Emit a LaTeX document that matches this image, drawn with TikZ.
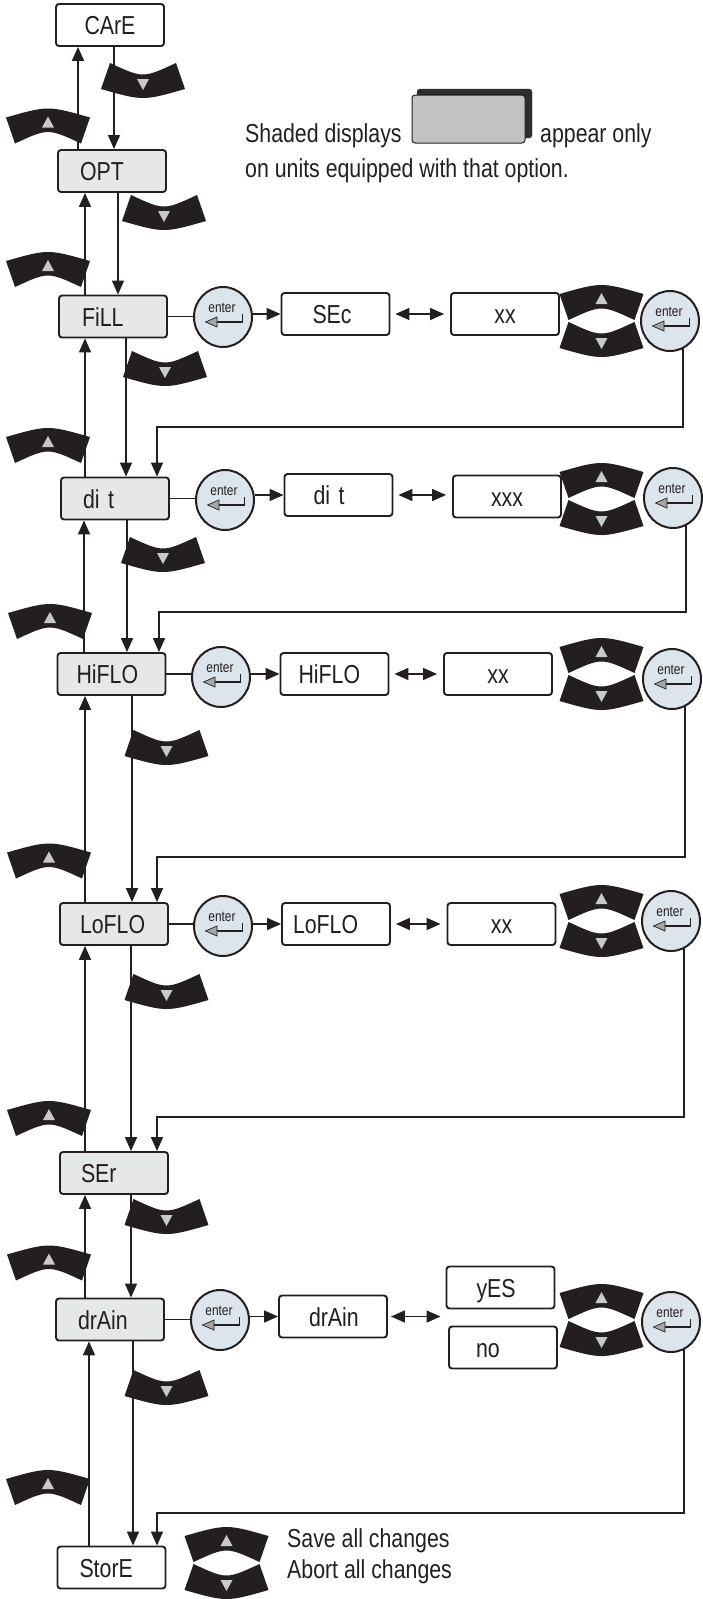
\documentclass[tikz,border=0pt]{standalone}
\usepackage{fontspec}
\newfontfamily\cond[FakeStretch=0.82]{Liberation Sans}
\usetikzlibrary{arrows.meta,shapes.geometric,calc}
\definecolor{ink}{HTML}{231F20}
\definecolor{shade}{HTML}{E6E7E8}
\definecolor{entfill}{HTML}{DDE5EC}
\definecolor{trig}{HTML}{C8C9CB}
\definecolor{iconfill}{HTML}{C2C2C2}
\definecolor{iconshadow}{HTML}{2E2E2E}
\begin{document}
\begin{tikzpicture}[x=1pt,y=-1pt,
  every node/.style={font=\cond\fontsize{26}{30}\selectfont, text=ink},
  dispbox/.style={draw=ink, line width=1.9pt, rounded corners=3pt, fill=white,
    minimum width=108pt, minimum height=42pt, inner xsep=0pt, inner ysep=0pt,
    text height=19pt, text depth=0pt, align=left},
  optbox/.style={dispbox, fill=shade},
  entkey/.style={ellipse, draw=ink, line width=2pt, fill=entfill,
    minimum width=58pt, minimum height=60pt, inner sep=0pt},
  conn/.style={draw=ink, line width=1.6pt},
  arr/.style={conn, -{Triangle[length=14pt,width=12pt]}},
  darr/.style={conn, {Triangle[length=14pt,width=12pt]}-{Triangle[length=14pt,width=12pt]}},
  txt/.style={inner sep=0pt, anchor=base west},
  upbtn/.pic={
    \fill[ink] (-42,-8.5) .. controls (0,-20.5) .. (42,-8.5) -- (33,17.5)
      .. controls (0,2.2) .. (-33,17.5) -- cycle;
    \fill[trig] (-6,1.5) -- (6,1.5) -- (0,-9.5) -- cycle;
  },
  dnbtn/.pic={
    \fill[ink] (-42,8.5) .. controls (0,20.5) .. (42,8.5) -- (33,-17.5)
      .. controls (0,-2.2) .. (-33,-17.5) -- cycle;
    \fill[trig] (-6,-1.5) -- (6,-1.5) -- (0,9.5) -- cycle;
  },
  entglyph/.pic={
    \node[font=\cond\fontsize{14.5}{16}\selectfont, inner sep=0pt, anchor=base] (-t) at (-1,-5) {enter};
    \draw[ink, line width=1.4pt] (19.5,-3) -- (19.5,5) -- (-6,5);
    \filldraw[fill=gray!70, draw=ink, line width=0.7pt] (-6,0) -- (-17.5,5) -- (-6,10) -- cycle;
  }
]
\useasboundingbox (0,0) rectangle (702,1599);

% ---------- legend ----------
\node[txt] (lg1) at (245,142) {Shaded displays};
\node[draw=iconshadow, fill=iconshadow, rounded corners=3pt, minimum width=115pt, minimum height=49pt, inner sep=0pt] (iconsh) at (474.5,113.5) {};
\node[draw=ink, line width=1pt, fill=iconfill, rounded corners=3pt, minimum width=113pt, minimum height=48pt, inner sep=0pt] (icon) at (468.5,119) {};
\node[txt] (lg2) at (540,142) {appear only};
\node[txt] (lg3) at (245,177) {on units equipped with that option.};

% ---------- left column boxes ----------
\node[dispbox, align=center] (care) at (110,25) {CArE};
\node[optbox, text width=64pt] (opt)   at (112,171)    {OPT};
\node[optbox, text width=62pt] (fill)  at (113,316.5)  {FiLL};
\node[optbox, text width=64pt] (dit)   at (115,498.5)  {di t};
\node[optbox, text width=70pt] (hiflo) at (111.5,674)  {HiFLO};
\node[optbox, text width=68pt] (loflo) at (114,924)    {LoFLO};
\node[optbox, text width=66pt] (ser)   at (114,1173)   {SEr};
\node[optbox, text width=64pt] (drain) at (110,1319.5) {drAin};
\node[dispbox, text width=64pt] (store) at (111.5,1567.5) {StorE};

% ---------- right boxes ----------
\node[dispbox, text width=46pt] (sec)    at (335.5,314)  {SEc};
\node[dispbox, align=center]    (xxa)    at (505,314)    {xx};
\node[dispbox, text width=50pt] (dit2)   at (338.5,495)  {di t};
\node[dispbox, align=center]    (xxx)    at (507,496.5)  {xxx};
\node[dispbox, text width=72pt] (hiflo2) at (334.5,674)  {HiFLO};
\node[dispbox, align=center]    (xxb)    at (498,674)    {xx};
\node[dispbox, text width=86pt] (loflo2) at (336,924)    {LoFLO};
\node[dispbox, align=center]    (xxc)    at (501.5,924)  {xx};
\node[dispbox, text width=48pt] (drain2) at (333,1316.5) {drAin};
\node[dispbox, text width=48pt] (yes)    at (500.5,1287.5) {yES};
\node[dispbox, text width=54pt] (no)     at (503,1347.5) {no};

% ---------- enter keys ----------
\node[entkey] (fe1) at (223,317) {};  \node[entkey] (fe2) at (670,321) {};
\node[entkey] (de1) at (225,500) {};  \node[entkey] (de2) at (673,498) {};
\node[entkey] (he1) at (221,677) {};  \node[entkey] (he2) at (672,679) {};
\node[entkey] (le1) at (223,926) {};  \node[entkey] (le2) at (671,921) {};
\node[entkey] (re1) at (220,1320) {}; \node[entkey] (re2) at (671,1322) {};
\foreach \k in {fe1,fe2,de1,de2,he1,he2,le1,le2,re1,re2}{
  \pic (\k g) at (\k.center) {entglyph};
}

% ---------- row connectors ----------
\foreach \b/\e/\w/\x in {fill/fe1/sec/xxa, dit/de1/dit2/xxx, hiflo/he1/hiflo2/xxb, loflo/le1/loflo2/xxc}{
  \draw[conn] (\b.east) -- (\b.east -| \e.west);
  \draw[arr] (\e.east |- \w.west) -- (\w.west);
  \draw[darr, shorten <=5pt, shorten >=6pt] (\w.east) -- (\w.east -| \x.west);
}
\draw[conn] (drain.east) -- (drain.east -| re1.west);
\draw[arr] (re1.east |- drain2.west) -- (drain2.west);
\draw[darr, shorten <=3pt, shorten >=5pt] (drain2.east) -- (drain2.east -| yes.west);

% ---------- return lines ----------
\coordinate (r1) at (157,427);
\coordinate (r2) at (159,612);
\coordinate (r3) at (157,857);
\coordinate (r4) at (157,1117);
\coordinate (r5) at (157,1513);
\draw[arr] ([shift={(13,27)}]fe2.center) |- (r1) -- (r1 |- dit.north);
\draw[arr] ([shift={(13,27)}]de2.center) |- (r2) -- (r2 |- hiflo.north);
\draw[arr] ([shift={(13,27)}]he2.center) |- (r3) -- (r3 |- loflo.north);
\draw[arr] ([shift={(13,27)}]le2.center) |- (r4) -- (r4 |- ser.north);
\draw[arr] ([shift={(13,27)}]re2.center) |- (r5) -- (r5 |- store.north);

% ---------- left column up / down lines ----------
\foreach \lo/\hi/\ux/\dx in {opt/care/78/114, fill/opt/85/118, dit/fill/85/126,
   hiflo/dit/84/127, loflo/hiflo/85/132, ser/loflo/85/131, drain/ser/85/131, store/drain/89/133}{
  \coordinate (u) at (\ux,0);
  \coordinate (d) at (\dx,0);
  \draw[arr] (u |- \lo.north) -- (u |- \hi.south);
  \draw[arr] (d |- \hi.south) -- (d |- \lo.north);
}

% ---------- up / down buttons of the left column ----------
\pic at (48,126) {upbtn};
\pic at (48,269.5) {upbtn};
\pic at (48,445.5) {upbtn};
\pic at (50,621.5) {upbtn};
\pic at (49,861) {upbtn};
\pic at (49,1118.5) {upbtn};
\pic at (49,1263) {upbtn};
\pic at (48,1487.5) {upbtn};
\pic at (143,80.5) {dnbtn};
\pic at (164,212.5) {dnbtn};
\pic at (165,368.5) {dnbtn};
\pic at (163,554.5) {dnbtn};
\pic at (166.5,747.5) {dnbtn};
\pic at (166.5,991.5) {dnbtn};
\pic at (166.5,1216.5) {dnbtn};
\pic at (166.5,1387.5) {dnbtn};

% ---------- button pairs on the right ----------
\foreach \y in {321,499,674,921,1320}{
  \pic at (601.5,\y-18.5) {upbtn};
  \pic at (601.5,\y+18.5) {dnbtn};
}

% ---------- StorE keys ----------
\pic at (226.5,1544.5) {upbtn};
\pic at (226.5,1581.5) {dnbtn};
\node[txt] (save)  at (287,1547) {Save all changes};
\node[txt] (abort) at (287,1578) {Abort all changes};
\end{tikzpicture}
\end{document}
